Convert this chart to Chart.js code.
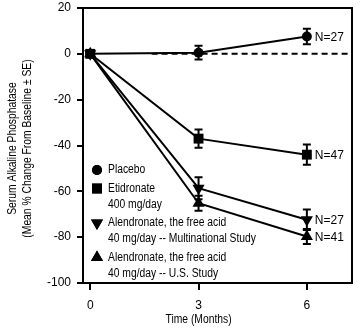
<!DOCTYPE html>
<html>
<head>
<meta charset="utf-8">
<script src="https://cdn.jsdelivr.net/npm/chart.js"></script>
<style>
  html, body { margin: 0; padding: 0; background: #fff; }
  #wrap { width: 362px; height: 334px; position: relative; }
</style>
</head>
<body>
<div id="wrap"><canvas id="chart" width="362" height="334"></canvas></div>
<script>
// values
const months = [0, 3, 6];
const xTicks = [0, 3, 6];
const yTicks = [20, 0, -20, -40, -60, -80, -100];

const placebo = [0, 0.5, 7.6];
const placeboSE = [0, 3, 3.4];
const etidronate = [0, -37, -44];
const etidronateSE = [0, 4, 4.4];
const alenMulti = [0, -58.6, -72.4];
const alenMultiSE = [0, 4.8, 4.5];
const alenUS = [0, -65.2, -79.7];
const alenUSSE = [0, 3.3, 3.3];

const groupLabels = [
	["Placebo"],
	["Etidronate", "400 mg/day"],
	["Alendronate, the free acid", "40 mg/day -- Multinational Study"],
	["Alendronate, the free acid", "40 mg/day -- U.S. Study"]
];
const nLabels = ["N=27", "N=47", "N=27", "N=41"];
const xTitle = "Time (Months)";
const yTitle = ["Serum Alkaline Phosphatase", "(Mean % Change From Baseline \u00b1 SE)"];

const REG = "'Liberation Sans', Arial, sans-serif";
const SQUEEZE = 0.86; // the original text is a condensed face

function points(ys) {
	return months.map((m, i) => ({ x: m, y: ys[i] }));
}

function narrowText(ctx, t, x, y, align) {
	ctx.save();
	ctx.translate(x, y);
	ctx.scale(SQUEEZE, 1);
	ctx.textAlign = align;
	ctx.fillText(t, 0, 0);
	ctx.restore();
}

const series = [
	{ data: placebo, se: placeboSE, style: "circle", radius: 5, rotation: 0 },
	{ data: etidronate, se: etidronateSE, style: "rect", radius: 7, rotation: 0 },
	{ data: alenMulti, se: alenMultiSE, style: "triangle", radius: 7, rotation: 180 },
	{ data: alenUS, se: alenUSSE, style: "triangle", radius: 7, rotation: 0 }
];

// box, dashed zero line, error bars, N labels, legend, titles
const extras = {
	id: "extras",
	beforeDatasetsDraw(chart) {
		const { ctx, chartArea, scales } = chart;
		const y0 = scales.y.getPixelForValue(0);
		ctx.save();
		ctx.strokeStyle = "#000";
		ctx.lineWidth = 2;
		ctx.setLineDash([6, 4]);
		ctx.beginPath();
		ctx.moveTo(scales.x.getPixelForValue(1.7), y0);
		ctx.lineTo(chartArea.right, y0);
		ctx.stroke();
		ctx.restore();
	},
	afterDatasetsDraw(chart) {
		const { ctx, chartArea, scales } = chart;
		const xs = scales.x, ys = scales.y;
		ctx.save();
		ctx.strokeStyle = "#000";
		ctx.lineWidth = 2;
		series.forEach((s) => {
			months.forEach((m, i) => {
				if (!s.se[i]) return;
				const px = xs.getPixelForValue(m);
				const top = ys.getPixelForValue(s.data[i] + s.se[i]);
				const bot = ys.getPixelForValue(s.data[i] - s.se[i]);
				ctx.beginPath();
				ctx.moveTo(px, top); ctx.lineTo(px, bot);
				ctx.moveTo(px - 4, top); ctx.lineTo(px + 4, top);
				ctx.moveTo(px - 4, bot); ctx.lineTo(px + 4, bot);
				ctx.stroke();
			});
		});

		ctx.fillStyle = "#000";
		ctx.font = "12px " + REG;
		ctx.textBaseline = "middle";
		ctx.textAlign = "left";
		series.forEach((s, k) => {
			const last = s.data.length - 1;
			ctx.fillText(nLabels[k], xs.getPixelForValue(months[last]) + 8, ys.getPixelForValue(s.data[last]) + 1);
		});

		// legend
		let ly = 170;
		series.forEach((s, k) => {
			Chart.helpers.drawPoint(ctx, {
				pointStyle: s.style,
				radius: s.style === "circle" ? 5 : 7,
				rotation: s.rotation,
				borderWidth: 0
			}, 97, ly);
			ctx.fill();
			groupLabels[k].forEach((t, j) => {
				narrowText(ctx, t, 108, ly, "left");
				ly += j === groupLabels[k].length - 1 ? 18.5 : 16;
			});
		});

		ctx.lineWidth = 2;
		ctx.strokeRect(chartArea.left, chartArea.top, chartArea.right - chartArea.left, chartArea.bottom - chartArea.top);

		// axis titles
		narrowText(ctx, xTitle, (xs.getPixelForValue(3)), 320, "center");
		const cy = (chartArea.top + chartArea.bottom) / 2 + 3;
		[13, 28].forEach((lx, i) => {
			ctx.save();
			ctx.translate(lx, cy);
			ctx.rotate(-Math.PI / 2);
			narrowText(ctx, yTitle[i], 0, 0, "center");
			ctx.restore();
		});
		ctx.restore();
	}
};

new Chart(document.getElementById("chart"), {
	type: "line",
	data: {
		datasets: series.map((s, k) => ({
			label: groupLabels[k].join(" "),
			data: points(s.data),
			borderColor: "#000",
			backgroundColor: "#000",
			borderWidth: 2,
			pointStyle: s.style,
			pointRadius: s.radius,
			pointRotation: s.rotation,
			pointBorderWidth: 0,
			tension: 0,
			order: k === 1 ? 0 : 1
		}))
	},
	options: {
		responsive: false,
		animation: false,
		events: [],
		layout: { padding: { top: 8, right: 10, left: 0, bottom: 0 } },
		plugins: { legend: { display: false }, tooltip: { enabled: false } },
		scales: {
			x: {
				type: "linear",
				min: -0.2,
				max: 7.25,
				afterBuildTicks: (axis) => { axis.ticks = xTicks.map((v) => ({ value: v })); },
				afterFit: (axis) => { axis.height = 51; axis.paddingLeft = 0; axis.paddingRight = 0; },
				grid: { drawOnChartArea: false, tickLength: 7, color: "#000", lineWidth: 2 },
				border: { display: false },
				ticks: { color: "#000", font: { size: 12, family: REG }, padding: 8, maxRotation: 0 }
			},
			y: {
				min: -100,
				max: 20,
				afterBuildTicks: (axis) => { axis.ticks = yTicks.map((v) => ({ value: v })); },
				afterFit: (axis) => { axis.width = 83; axis.paddingTop = 0; axis.paddingBottom = 0; },
				grid: { drawOnChartArea: false, tickLength: 6, color: "#000", lineWidth: 2 },
				border: { display: false },
				ticks: { color: "#000", font: { size: 12, family: REG }, padding: 6 }
			}
		}
	},
	plugins: [extras]
});
</script>
</body>
</html>
